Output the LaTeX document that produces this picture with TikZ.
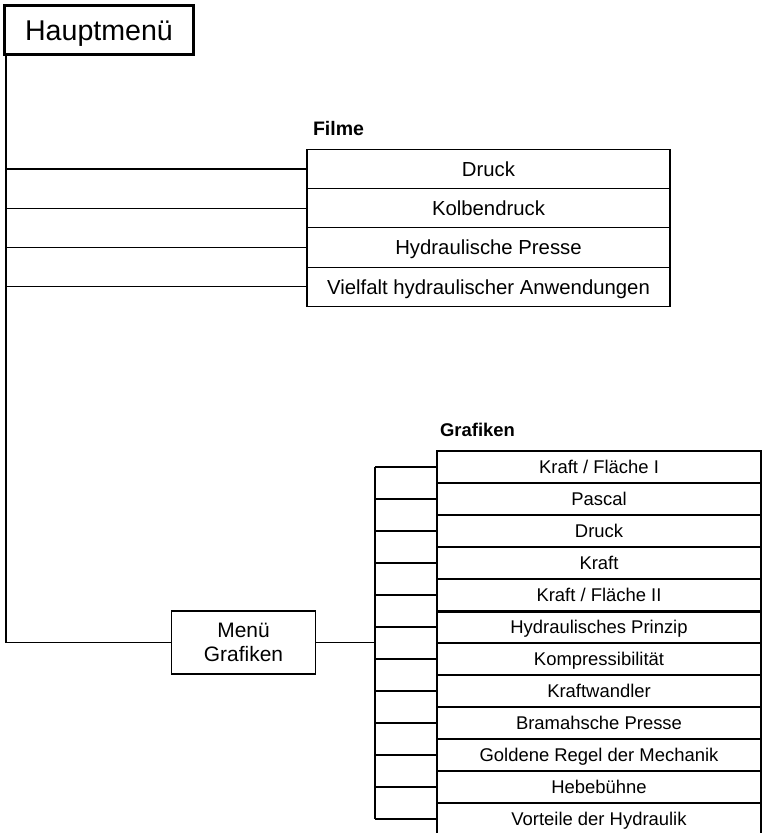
\documentclass[tikz,border=0pt]{standalone}
\usepackage{fontspec}
\newfontfamily\arialx{Liberation Sans}
\begin{document}
\begin{tikzpicture}[x=1bp,y=-1bp,line width=1.1bp,
  rowbase/.style={draw,rectangle,inner sep=0pt,text depth=0pt,font=\arialx},
  filmrow/.style={rowbase,text height=14.6bp,minimum width=363bp,minimum height=39.3bp,font=\arialx\fontsize{20.4}{24}\selectfont},
  grafrow/.style={rowbase,text height=13.2bp,minimum width=324bp,minimum height=32bp,font=\arialx\fontsize{18.5}{22}\selectfont},
  headlabel/.style={inner sep=0pt,text depth=0pt,font=\arialx\bfseries},
  mainbox/.style={draw,rectangle,line width=3bp,inner sep=0pt,text height=20.5bp,text depth=0pt,minimum width=188bp,minimum height=49bp,font=\arialx\fontsize{28.7}{33}\selectfont},
  subbox/.style={draw,rectangle,inner sep=0pt,minimum width=144bp,minimum height=63bp,align=center,font=\arialx\fontsize{21}{24.7}\selectfont},
  conn/.style={draw,line width=1.1bp}]
\clip (0,0) rectangle (764,833);
\fill[white] (0,0) rectangle (764,833);

% main menu
\node[mainbox] (hm) at (99,30) {Hauptmenü};

% Filme
\node[headlabel,text height=14bp,font=\arialx\bfseries\fontsize{19.6}{23}\selectfont] (filme) at (338.5,128) {Filme};
\node[filmrow] (f1) at (488.5,168.95) {Druck};
\node[filmrow] (f2) at (488.5,208.25) {Kolbendruck};
\node[filmrow] (f3) at (488.5,247.55) {Hydraulische Presse};
\node[filmrow] (f4) at (488.5,286.85) {Vielfalt hydraulischer Anwendungen};

% Menue Grafiken
\node[subbox] (mg) at (243.5,642.5) {Menü\\Grafiken};

% Grafiken
\node[headlabel,text height=13.2bp,font=\arialx\bfseries\fontsize{18.5}{22}\selectfont] (graf) at (477.5,430) {Grafiken};
\node[grafrow] (g1)  at (599,467) {Kraft / Fläche I};
\node[grafrow] (g2)  at (599,499) {Pascal};
\node[grafrow] (g3)  at (599,531) {Druck};
\node[grafrow] (g4)  at (599,563) {Kraft};
\node[grafrow] (g5)  at (599,595) {Kraft / Fläche II};
\node[grafrow] (g6)  at (599,627) {Hydraulisches Prinzip};
\node[grafrow] (g7)  at (599,659) {Kompressibilität};
\node[grafrow] (g8)  at (599,691) {Kraftwandler};
\node[grafrow] (g9)  at (599,723) {Bramahsche Presse};
\node[grafrow] (g10) at (599,755) {Goldene Regel der Mechanik};
\node[grafrow] (g11) at (599,787) {Hebebühne};
\node[grafrow] (g12) at (599,819) {Vorteile der Hydraulik};
\draw[line width=2.2bp] (g5.south west) -- (g5.south east);

% trunk from main menu
\coordinate (ttop) at (6,54);
\coordinate (tbot) at (6,642.5);
\draw[conn] (ttop) -- (tbot) -- (mg.west);
\draw[conn] (ttop |- f1.west) -- (f1.west);
\draw[conn] (ttop |- f2.west) -- (f2.west);
\draw[conn] (ttop |- f3.west) -- (f3.west);
\draw[conn] (ttop |- f4.west) -- (f4.west);

% Grafiken bus
\coordinate (gtop) at (375,467);
\coordinate (gbot) at (375,819);
\draw[conn] (gtop) -- (gbot);
\draw[conn] (mg.east) -- (mg.east -| gtop);
\foreach \i in {1,...,12} {
  \draw[conn] (gtop |- g\i.west) -- (g\i.west);
}
\end{tikzpicture}
\end{document}
